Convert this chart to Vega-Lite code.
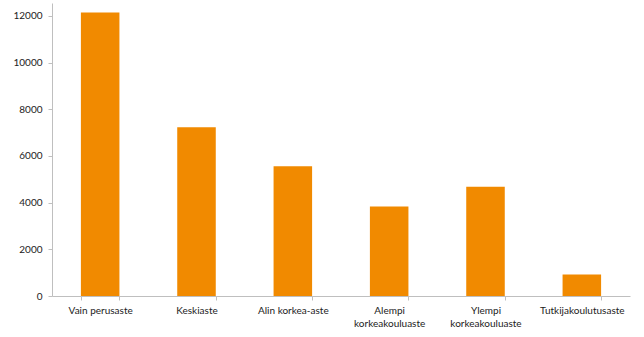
{
  "$schema": "https://vega.github.io/schema/vega-lite/v6.json",
  "width": 578,
  "height": 293,
  "autosize": {"type": "none"},
  "padding": {"left": 52, "top": 3, "right": 14, "bottom": 41},
  "background": "white",
  "config": {
    "view": {"stroke": null},
    "font": "Lato"
  },
  "data": {
    "values": [
      {"koulutus": "Vain perusaste", "arvo": 12150},
      {"koulutus": "Keskiaste", "arvo": 7230},
      {"koulutus": "Alin korkea-aste", "arvo": 5560},
      {"koulutus": "Alempi\nkorkeakouluaste", "arvo": 3840},
      {"koulutus": "Ylempi\nkorkeakouluaste", "arvo": 4680},
      {"koulutus": "Tutkijakoulutusaste", "arvo": 920}
    ]
  },
  "mark": {"type": "bar", "color": "#F18A00"},
  "encoding": {
    "x": {
      "field": "koulutus",
      "type": "nominal",
      "sort": null,
      "scale": {"paddingInner": 0.6, "paddingOuter": 0.3},
      "axis": {
        "title": null,
        "labelAngle": 0,
        "labelExpr": "split(datum.label, '\\n')",
        "labelFontSize": 10,
        "labelColor": "#222222",
        "labelPadding": 5,
        "labelLineHeight": 13,
        "tickBand": "extent",
        "tickSize": 4,
        "tickColor": "#BFBFBF",
        "domainColor": "#BFBFBF"
      }
    },
    "y": {
      "field": "arvo",
      "type": "quantitative",
      "scale": {"domain": [0, 12557], "nice": false},
      "axis": {
        "title": null,
        "grid": false,
        "values": [0, 2000, 4000, 6000, 8000, 10000, 12000],
        "format": "d",
        "labelFontSize": 10,
        "labelColor": "#222222",
        "labelPadding": 6,
        "tickSize": 4,
        "tickColor": "#BFBFBF",
        "domainColor": "#BFBFBF"
      }
    }
  }
}
